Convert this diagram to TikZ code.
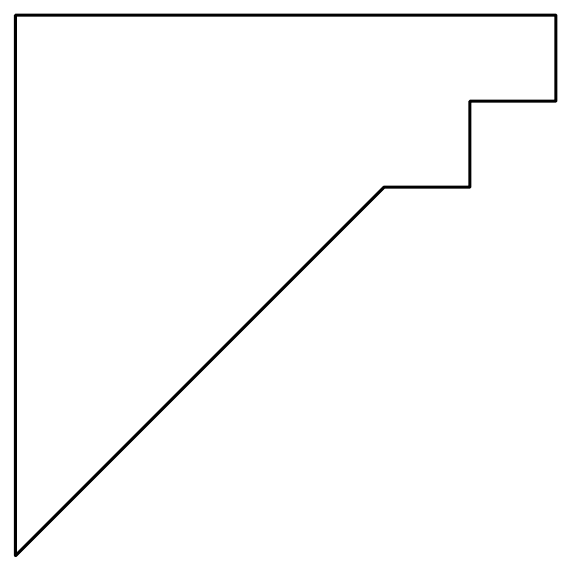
\documentclass[tikz,border=0pt]{standalone}
\begin{document}
\begin{tikzpicture}[line width=1pt,line join=round]
  \useasboundingbox (-0.18,-0.19) rectangle (6.47,6.46);
  \coordinate (o) at (0,0);
  \coordinate (m) at ({pi-1},{pi-1});
  \coordinate (p) at ({2*pi-2},{2*pi-2});
  \coordinate (q) at ({2*pi-1},{2*pi-2});
  \coordinate (r) at ({2*pi-1},{2*pi-1});
  \coordinate (s) at ({2*pi},{2*pi-1});
  \coordinate (t) at ({2*pi},{2*pi});
  \coordinate (u) at (0,{2*pi});
  \draw (o) -- (m) -- (p) -- (q) -- (r) -- (s) -- (t) -- (u) -- cycle;
\end{tikzpicture}
\end{document}
